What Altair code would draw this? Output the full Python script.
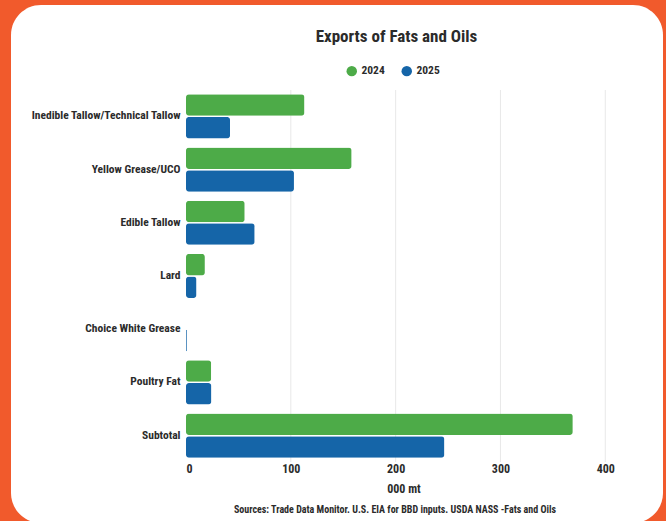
import altair as alt
import pandas as pd

categories = ["Inedible Tallow/Technical Tallow", "Yellow Grease/UCO", "Edible Tallow",
              "Lard", "Choice White Grease", "Poultry Fat", "Subtotal"]
years = ["2024", "2025"]
values_2024 = [113, 158, 56, 18, 0, 24, 369]
values_2025 = [42, 103, 65.5, 10, 0.8, 24.2, 246.5]
x_ticks = [0, 100, 200, 300, 400]
grid_ticks = [100, 200, 300, 400]

rows = []
for c, a, b in zip(categories, values_2024, values_2025):
    rows.append({"category": c, "year": "2024", "value": a})
    rows.append({"category": c, "year": "2025", "value": b})
df = pd.DataFrame(rows)
grid_df = pd.DataFrame({"value": grid_ticks})

FONT = "Roboto Condensed, Lato, sans-serif"
TXT = "#2b2b2b"

panel = alt.Chart(alt.Data(values=[{}])).mark_rect(
    color="white", cornerRadius=30
).encode(
    x=alt.value(-175), x2=alt.value(477), y=alt.value(-85), y2=alt.value(433)
)

grid = alt.Chart(grid_df).mark_rule(color="#e8e8e8", strokeWidth=1).encode(
    x=alt.X("value:Q")
)

bars = alt.Chart(df).mark_bar(cornerRadius=3).encode(
    y=alt.Y("category:N", sort=categories,
            scale=alt.Scale(paddingInner=0.17, paddingOuter=0.08),
            axis=alt.Axis(title=None, domain=False, ticks=False, labelPadding=6,
                          labelFont=FONT, labelFontSize=11.5, labelFontWeight="bold",
                          labelColor=TXT, labelLimit=200, zindex=1)),
    yOffset=alt.YOffset("year:N", sort=years, scale=alt.Scale(paddingInner=0.05)),
    x=alt.X("value:Q", scale=alt.Scale(domain=[0, 415], nice=False),
            axis=alt.Axis(values=x_ticks, title="000 mt", domain=False, ticks=False,
                          grid=False, labelPadding=1, zindex=1,
                          labelFont=FONT, labelFontSize=12, labelFontWeight="bold",
                          labelColor=TXT, titleFont=FONT, titleFontSize=12,
                          titleFontWeight="bold", titleColor=TXT, titlePadding=9)),
    color=alt.Color("year:N", sort=years,
                    scale=alt.Scale(domain=years, range=["#4dab48", "#1565a8"]),
                    legend=alt.Legend(title=None, orient="none", direction="horizontal",
                                      legendX=160, legendY=-25, symbolType="circle",
                                      symbolSize=110, symbolStrokeWidth=0,
                                      labelFont=FONT, labelFontSize=11.5,
                                      labelFontWeight="bold", labelColor=TXT,
                                      columnPadding=16)),
)

source = alt.Chart(alt.Data(values=[{"t": "Sources: Trade Data Monitor. U.S. EIA for BBD inputs. USDA NASS -Fats and Oils"}])).mark_text(
    font=FONT, fontSize=10, fontWeight="bold", color=TXT, align="center", baseline="middle"
).encode(text="t:N", x=alt.value(209), y=alt.value(420))

chart = alt.layer(panel, grid, bars, source).properties(
    width=435, height=372,
    padding={"left": 186, "top": 90, "right": 45, "bottom": 59},
    autosize=alt.AutoSizeParams(type="none"),
    background="#f15a2c",
    title=alt.TitleParams("Exports of Fats and Oils", font=FONT, fontSize=17,
                          fontWeight="bold", color=TXT, anchor="middle", frame="group",
                          dx=-7, offset=-41),
).configure_view(stroke=None)

chart.save("out.html", embed_options={"renderer": "svg", "actions": False})
